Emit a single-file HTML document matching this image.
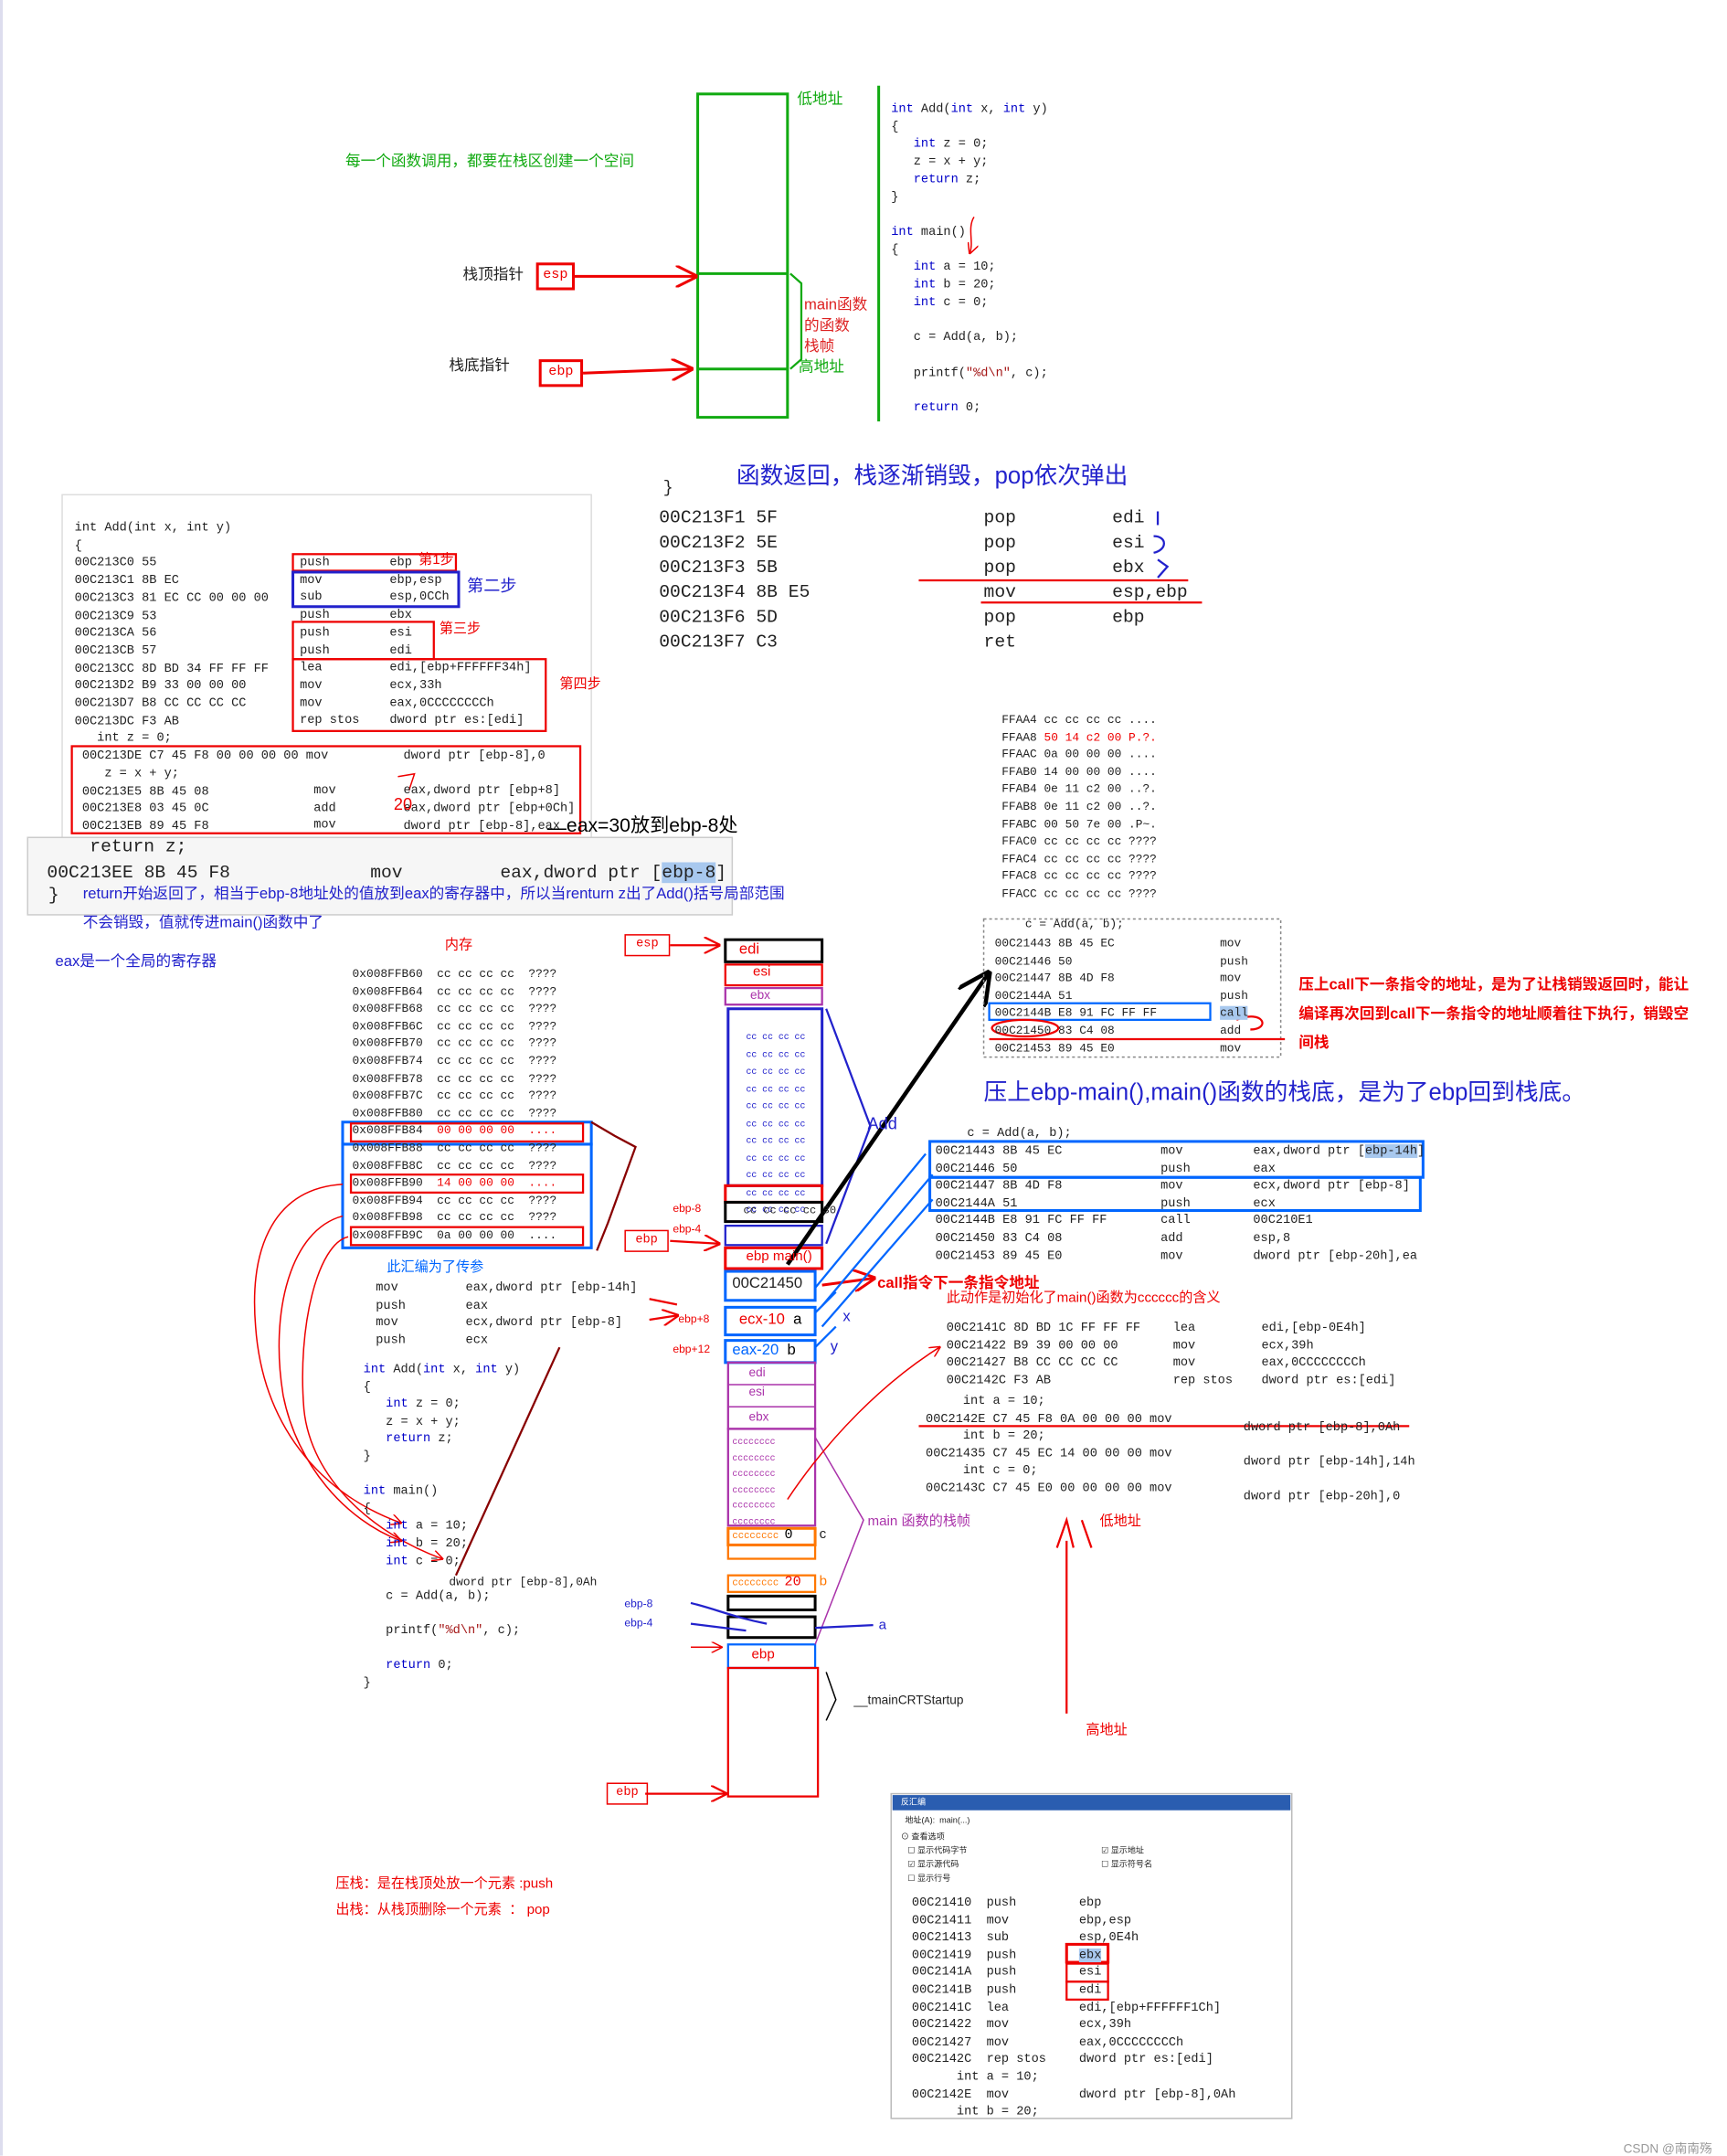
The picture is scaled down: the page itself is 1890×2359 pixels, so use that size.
<!DOCTYPE html>
<html><head><meta charset="utf-8"><style>
html,body{margin:0;padding:0;background:#fff;width:1890px;height:2359px;overflow:hidden}
#c{position:absolute;left:0;top:0;width:1250px;height:1560px;transform:scale(1.512);transform-origin:0 0;font-family:"Liberation Mono","Noto Sans CJK SC",monospace}
.t{position:absolute;white-space:pre;font-size:9px;line-height:10px;color:#222}
.cn{font-family:"Liberation Sans","Noto Sans CJK SC",sans-serif}
.b{position:absolute;box-sizing:border-box}
.kw{color:#0000c8}
</style></head><body><div id="c">
<svg width="1250" height="1560" style="position:absolute;left:0;top:0" fill="none">
<defs>
<marker id="ar" markerWidth="8" markerHeight="8" refX="7" refY="4" orient="auto"><path d="M0,0L8,4L0,8" stroke="#e00" fill="none"/></marker>
<marker id="ak" markerWidth="8" markerHeight="8" refX="7" refY="4" orient="auto"><path d="M0,0L8,4L0,8" stroke="#000" fill="none"/></marker>
<marker id="ab" markerWidth="8" markerHeight="8" refX="7" refY="4" orient="auto"><path d="M0,0L8,4L0,8" stroke="#06f" fill="none"/></marker>
</defs>
<line x1="0" y1="0" x2="0" y2="1560" stroke="#dde" stroke-width="4"/>
<!-- top section -->
<rect x="505" y="68" width="65" height="234" stroke="#1a1" stroke-width="2"/>
<line x1="505" y1="198" x2="570" y2="198" stroke="#1a1" stroke-width="2"/>
<line x1="505" y1="267" x2="570" y2="267" stroke="#1a1" stroke-width="2"/>
<path d="M572,198 L580,205 L580,260 L572,267" stroke="#1a1" stroke-width="1.5"/>
<line x1="636" y1="62" x2="636" y2="305" stroke="#1a1" stroke-width="2"/>
<line x1="416" y1="200" x2="503" y2="200" stroke="#e00" stroke-width="2" marker-end="url(#ar)"/>
<line x1="422" y1="270" x2="500" y2="267" stroke="#e00" stroke-width="2" marker-end="url(#ar)"/>
<path d="M705,157 C700,165 705,175 702,183" stroke="#e00" marker-end="url(#ar)"/>
<!-- section 2 -->
<rect x="45" y="358" width="383" height="302" stroke="#ddd"/>
<rect x="20" y="606" width="510" height="56" stroke="#ccc" fill="#f6f6f6"/>
<rect x="212" y="401" width="118" height="12" stroke="#e00" stroke-width="1.5"/>
<rect x="212" y="414" width="120" height="25" stroke="#22c" stroke-width="2"/>
<rect x="212" y="450" width="102" height="27" stroke="#e00" stroke-width="1.5"/>
<rect x="212" y="477" width="183" height="52" stroke="#e00" stroke-width="1.5"/>
<rect x="52" y="540" width="368" height="63" stroke="#e00" stroke-width="1.5"/>
<line x1="665" y1="420" x2="860" y2="420" stroke="#e00" stroke-width="1.5"/>
<line x1="710" y1="436" x2="870" y2="436" stroke="#e00" stroke-width="1.5"/>
<path d="M838,370 L838,380 M835,388 C845,388 845,398 835,400 M838,405 L845,410 L838,418" stroke="#22c" stroke-width="1.5"/>
<path d="M288,562 L300,560 L296,572" stroke="#e00"/>
<path d="M396,600 L410,600" stroke="#000"/>
<!-- memory left -->
<rect x="248" y="812" width="180" height="16" stroke="#06f" stroke-width="2"/>
<rect x="248" y="828" width="180" height="75" stroke="#06f" stroke-width="2"/>
<rect x="254" y="813" width="168" height="13" stroke="#e00" stroke-width="1.5"/>
<rect x="254" y="850" width="168" height="13" stroke="#e00" stroke-width="1.5"/>
<rect x="254" y="888" width="168" height="13" stroke="#e00" stroke-width="1.5"/>
<path d="M428,812 L445,822 L460,830 L440,885 L432,905" stroke="#800" stroke-width="1.5"/>
<path d="M248,857 C200,860 180,900 185,960 C190,1030 230,1080 290,1102" stroke="#e00" marker-end="url(#ar)"/>
<path d="M248,880 C210,890 195,950 205,1010 C215,1060 250,1100 290,1115" stroke="#e00" marker-end="url(#ar)"/>
<path d="M252,895 C230,900 215,960 220,1020 C225,1070 270,1110 320,1128" stroke="#e00" marker-end="url(#ar)"/>
<path d="M405,975 L330,1140" stroke="#800" stroke-width="1.5"/>
<path d="M470,940 L490,944 M470,955 L490,952" stroke="#e00" stroke-width="1.5" marker-end="url(#ar)"/>
<!-- center stack -->
<line x1="485" y1="684" x2="520" y2="684" stroke="#e00" stroke-width="1.5" marker-end="url(#ar)"/>
<line x1="485" y1="898" x2="520" y2="900" stroke="#e00" stroke-width="1.5" marker-end="url(#ar)"/>
<line x1="467" y1="1298" x2="525" y2="1298" stroke="#e00" stroke-width="1.5" marker-end="url(#ar)"/>
<rect x="525" y="680" width="70" height="16" stroke="#000" stroke-width="2"/>
<rect x="525" y="698" width="70" height="15" stroke="#e00" stroke-width="1.5"/>
<rect x="525" y="715" width="70" height="12" stroke="#a3a" stroke-width="1.5"/>
<rect x="527" y="730" width="68" height="128" stroke="#22c" stroke-width="2"/>
<rect x="525" y="858" width="70" height="12" stroke="#e00" stroke-width="2"/>
<rect x="525" y="870" width="70" height="14" stroke="#000" stroke-width="2"/>
<rect x="525" y="887" width="70" height="14" stroke="#22c" stroke-width="1.5"/>
<rect x="525" y="903" width="70" height="15" stroke="#e00" stroke-width="2"/>
<rect x="525" y="920" width="65" height="21" stroke="#06f" stroke-width="2"/>
<rect x="525" y="946" width="65" height="20" stroke="#06f" stroke-width="2"/>
<rect x="525" y="970" width="65" height="16" stroke="#06f" stroke-width="2"/>
<rect x="527" y="986" width="63" height="48" stroke="#a3a" stroke-width="1.5"/>
<line x1="527" y1="1002" x2="590" y2="1002" stroke="#a3a"/>
<line x1="527" y1="1018" x2="590" y2="1018" stroke="#a3a"/>
<rect x="527" y="1034" width="63" height="70" stroke="#a3a" stroke-width="1.5"/>
<rect x="527" y="1106" width="63" height="12" stroke="#f70" stroke-width="2"/>
<rect x="527" y="1118" width="63" height="10" stroke="#f70" stroke-width="1.5"/>
<rect x="527" y="1140" width="63" height="12" stroke="#f70" stroke-width="1.5"/>
<rect x="527" y="1155" width="63" height="10" stroke="#000" stroke-width="2"/>
<rect x="527" y="1170" width="63" height="15" stroke="#000" stroke-width="2"/>
<rect x="527" y="1190" width="63" height="17" stroke="#06f" stroke-width="1.5"/>
<rect x="527" y="1207" width="65" height="93" stroke="#e00" stroke-width="1.5"/>
<path d="M598,730 L630,815 L598,900" stroke="#22c" stroke-width="1.5"/>
<path d="M590,1040 L625,1100 L590,1190" stroke="#a3a" stroke-width="1"/>
<path d="M598,1210 L605,1230 L598,1245" stroke="#000"/>
<line x1="570" y1="915" x2="715" y2="705" stroke="#000" stroke-width="3" marker-end="url(#ak)"/>
<line x1="595" y1="930" x2="632" y2="925" stroke="#e00" stroke-width="2" marker-end="url(#ar)"/>
<path d="M590,932 L670,835 M595,945 L675,850 M595,960 L675,868" stroke="#06f" stroke-width="1.5"/>
<path d="M590,950 L605,935 M590,975 L605,960" stroke="#06f" stroke-width="1.5"/>
<path d="M570,1085 C600,1040 640,1000 680,975" stroke="#e00" marker-end="url(#ar)"/>
<path d="M500,1160 C520,1165 530,1170 555,1175 M500,1175 L540,1180 M590,1178 L632,1176" stroke="#22c" stroke-width="1.5"/>
<line x1="500" y1="1192" x2="522" y2="1192" stroke="#e00" marker-end="url(#ar)"/>
<!-- right side -->
<rect x="712" y="665" width="215" height="100" stroke="#888" stroke-dasharray="2,2"/>
<rect x="716" y="726" width="160" height="12" stroke="#06f" stroke-width="1.5"/>
<line x1="716" y1="752" x2="930" y2="752" stroke="#e00" stroke-width="1.5"/>
<ellipse cx="742" cy="744" rx="24" ry="6" stroke="#e00" stroke-width="1.5"/>
<path d="M895,738 C915,730 920,745 905,745" stroke="#e00" stroke-width="1.5"/>
<rect x="673" y="826" width="357" height="26" stroke="#06f" stroke-width="2"/>
<rect x="673" y="852" width="355" height="24" stroke="#06f" stroke-width="2"/>
<line x1="665" y1="1032" x2="1020" y2="1032" stroke="#e00" stroke-width="1.5"/>
<path d="M765,1120 L772,1100 L777,1120 M790,1120 L783,1100" stroke="#e00" stroke-width="1.5"/>
<line x1="772" y1="1115" x2="772" y2="1240" stroke="#e00" stroke-width="1.5"/>
<!-- dialog -->
<rect x="645" y="1298" width="290" height="235" stroke="#bbb" fill="#fff"/>
<rect x="646" y="1299" width="288" height="11" fill="#2a5db0"/>
<rect x="772" y="1407" width="30" height="13" stroke="#e00" stroke-width="2"/>
<rect x="772" y="1421" width="30" height="13" stroke="#e00" stroke-width="1.5"/>
<rect x="772" y="1434" width="30" height="13" stroke="#e00" stroke-width="1.5"/>
</svg>

<!-- top section text -->
<div class="t cn" style="left:250px;top:112px;font-size:11px;color:#1a1">每一个函数调用，都要在栈区创建一个空间</div>
<div class="t cn" style="left:577px;top:67px;font-size:11px;color:#1a1">低地址</div>
<div class="t cn" style="left:578px;top:261px;font-size:11px;color:#1a1">高地址</div>
<div class="t cn" style="left:582px;top:214px;font-size:11px;line-height:15px;color:#d22">main函数
的函数
栈帧</div>
<div class="t cn" style="left:335px;top:194px;font-size:11px">栈顶指针</div>
<div class="t cn" style="left:325px;top:260px;font-size:11px">栈底指针</div>
<div class="b" style="left:388px;top:190px;width:28px;height:20px;border:2px solid #e00;color:#e00;font-size:10px;text-align:center;line-height:16px">esp</div>
<div class="b" style="left:390px;top:260px;width:32px;height:20px;border:2px solid #e00;color:#e00;font-size:10px;text-align:center;line-height:16px">ebp</div>
<div class="t" style="left:645px;top:73px;line-height:12.7px"><span class="kw">int</span> Add(<span class="kw">int</span> x, <span class="kw">int</span> y)
{
   <span class="kw">int</span> z = 0;
   z = x + y;
   <span class="kw">return</span> z;
}

<span class="kw">int</span> main()
{
   <span class="kw">int</span> a = 10;
   <span class="kw">int</span> b = 20;
   <span class="kw">int</span> c = 0;

   c = Add(a, b);

   printf(<span style="color:#a31515">"%d\n"</span>, c);

   <span class="kw">return</span> 0;</div>

<!-- section 2 -->
<div class="t" style="left:54px;top:376px;line-height:12.7px">int Add(int x, int y)
{
00C213C0 55
00C213C1 8B EC
00C213C3 81 EC CC 00 00 00
00C213C9 53
00C213CA 56
00C213CB 57
00C213CC 8D BD 34 FF FF FF
00C213D2 B9 33 00 00 00
00C213D7 B8 CC CC CC CC
00C213DC F3 AB
   int z = 0;
 00C213DE C7 45 F8 00 00 00 00 mov
    z = x + y;
 00C213E5 8B 45 08
 00C213E8 03 45 0C
 00C213EB 89 45 F8</div>
<div class="t" style="left:217px;top:401px;line-height:12.7px">push
mov
sub
push
push
push
lea
mov
mov
rep stos</div>
<div class="t" style="left:282px;top:401px;line-height:12.7px">ebp
ebp,esp
esp,0CCh
ebx
esi
edi
edi,[ebp+FFFFFF34h]
ecx,33h
eax,0CCCCCCCCh
dword ptr es:[edi]</div>
<div class="t" style="left:227px;top:566px;line-height:12.7px">mov
add
mov</div>
<div class="t" style="left:292px;top:541px;line-height:12.7px">dword ptr [ebp-8],0

eax,dword ptr [ebp+8]
eax,dword ptr [ebp+0Ch]
dword ptr [ebp-8],eax</div>
<div class="t cn" style="left:303px;top:401px;color:#e00;font-size:10px">第1步</div>
<div class="t cn" style="left:338px;top:419px;color:#22c;font-size:12px">第二步</div>
<div class="t cn" style="left:318px;top:451px;color:#e00;font-size:10px">第三步</div>
<div class="t cn" style="left:405px;top:491px;color:#e00;font-size:10px">第四步</div>
<div class="t cn" style="left:285px;top:577px;color:#e00;font-size:12px">20</div>
<div class="t cn" style="left:410px;top:592px;font-size:14px;color:#000">eax=30放到ebp-8处</div>
<div class="t" style="left:65px;top:606px;font-size:13px;line-height:13px">return z;</div>
<div class="t" style="left:34px;top:625px;font-size:13px;line-height:14px">00C213EE 8B 45 F8</div>
<div class="t" style="left:268px;top:625px;font-size:13px;line-height:14px">mov</div>
<div class="t" style="left:362px;top:625px;font-size:13px;line-height:14px">eax,dword ptr [<span style="background:#a8c8ee">ebp-8</span>]</div>
<div class="t" style="left:35px;top:643px;font-size:13px">}</div>
<div class="t cn" style="left:60px;top:642px;color:#22c;font-size:11px">return开始返回了，相当于ebp-8地址处的值放到eax的寄存器中，所以当renturn z出了Add()括号局部范围</div>
<div class="t cn" style="left:60px;top:663px;color:#22c;font-size:11px">不会销毁，值就传进main()函数中了</div>
<div class="t cn" style="left:40px;top:691px;color:#22c;font-size:11px">eax是一个全局的寄存器</div>

<div class="t cn" style="left:533px;top:340px;color:#22c;font-size:17px">函数返回，栈逐渐销毁，pop依次弹出</div>
<div class="t" style="left:480px;top:348px;font-size:12px">}</div>
<div class="t" style="left:477px;top:366px;font-size:13px;line-height:18px">00C213F1 5F
00C213F2 5E
00C213F3 5B
00C213F4 8B E5
00C213F6 5D
00C213F7 C3</div>
<div class="t" style="left:712px;top:366px;font-size:13px;line-height:18px">pop
pop
pop
mov
pop
ret</div>
<div class="t" style="left:805px;top:366px;font-size:13px;line-height:18px">edi
esi
ebx
esp,ebp
ebp</div>

<!-- memory top right -->
<div class="t" style="left:725px;top:515px;line-height:12.6px;font-size:8.5px">FFAA4 cc cc cc cc ....
FFAA8 <span style="color:#e00">50 14 c2 00 P.?.</span>
FFAAC 0a 00 00 00 ....
FFAB0 14 00 00 00 ....
FFAB4 0e 11 c2 00 ..?.
FFAB8 0e 11 c2 00 ..?.
FFABC 00 50 7e 00 .P~.
FFAC0 cc cc cc cc ????
FFAC4 cc cc cc cc ????
FFAC8 cc cc cc cc ????
FFACC cc cc cc cc ????</div>

<!-- memory left -->
<div class="t cn" style="left:322px;top:680px;color:#e00;font-size:10px">内存</div>
<div class="t" style="left:255px;top:699px;line-height:12.6px;font-size:8.5px">0x008FFB60  cc cc cc cc  ????
0x008FFB64  cc cc cc cc  ????
0x008FFB68  cc cc cc cc  ????
0x008FFB6C  cc cc cc cc  ????
0x008FFB70  cc cc cc cc  ????
0x008FFB74  cc cc cc cc  ????
0x008FFB78  cc cc cc cc  ????
0x008FFB7C  cc cc cc cc  ????
0x008FFB80  cc cc cc cc  ????
0x008FFB84  <span style="color:#e00">00 00 00 00  ....</span>
0x008FFB88  cc cc cc cc  ????
0x008FFB8C  cc cc cc cc  ????
0x008FFB90  <span style="color:#e00">14 00 00 00  ....</span>
0x008FFB94  cc cc cc cc  ????
0x008FFB98  cc cc cc cc  ????
0x008FFB9C  0a 00 00 00  ....</div>
<div class="t cn" style="left:280px;top:913px;color:#06f;font-size:10px">此汇编为了传参</div>
<div class="t" style="left:272px;top:926px;line-height:12.6px">mov
push
mov
push</div>
<div class="t" style="left:337px;top:926px;line-height:12.6px">eax,dword ptr [ebp-14h]
eax
ecx,dword ptr [ebp-8]
ecx</div>

<!-- bottom left code -->
<div class="t" style="left:263px;top:985px;line-height:12.6px"><span class="kw">int</span> Add(<span class="kw">int</span> x, <span class="kw">int</span> y)
{
   <span class="kw">int</span> z = 0;
   z = x + y;
   <span class="kw">return</span> z;
}

<span class="kw">int</span> main()
{
   <span class="kw">int</span> a = 10;
   <span class="kw">int</span> b = 20;
   <span class="kw">int</span> c = 0;

   c = Add(a, b);

   printf(<span style="color:#a31515">"%d\n"</span>, c);

   <span class="kw">return</span> 0;
}</div>
<div class="t" style="left:325px;top:1140px;font-size:8.5px">dword ptr [ebp-8],0Ah</div>

<!-- center stack labels -->
<div class="b" style="left:452px;top:676px;width:33px;height:16px;border:1.5px solid #e00;color:#e00;font-size:9px;text-align:center;line-height:13px">esp</div>
<div class="t cn" style="left:535px;top:682px;color:#e00;font-size:11px">edi</div>
<div class="t cn" style="left:545px;top:699px;color:#e00;font-size:10px">esi</div>
<div class="t cn" style="left:543px;top:715px;color:#a3a;font-size:9px">ebx</div>
<div class="t" style="left:540px;top:745px;color:#22c;font-size:6.5px;line-height:12.5px">cc cc cc cc
cc cc cc cc
cc cc cc cc
cc cc cc cc
cc cc cc cc
cc cc cc cc
cc cc cc cc
cc cc cc cc
cc cc cc cc
cc cc cc cc
cc cc cc cc</div>
<div class="t" style="left:538px;top:872px;font-size:8px">cc cc cc cc 30</div>
<div class="t cn" style="left:540px;top:905px;color:#e00;font-size:10px">ebp main()</div>
<div class="t cn" style="left:530px;top:924px;font-size:11px">00C21450</div>
<div class="t cn" style="left:535px;top:950px;color:#e00;font-size:11px">ecx-10  <span style="color:#000">a</span></div>
<div class="t cn" style="left:530px;top:972px;color:#06f;font-size:11px">eax-20  <span style="color:#000">b</span></div>
<div class="t cn" style="left:542px;top:988px;color:#a3a;font-size:9px">edi</div>
<div class="t cn" style="left:542px;top:1002px;color:#a3a;font-size:9px">esi</div>
<div class="t cn" style="left:542px;top:1020px;color:#a3a;font-size:9px">ebx</div>
<div class="t" style="left:530px;top:1038px;color:#a3a;font-size:6.5px;line-height:11.5px">cccccccc
cccccccc
cccccccc
cccccccc
cccccccc
cccccccc</div>
<div class="t" style="left:530px;top:1107px;color:#f70;font-size:7px">cccccccc <span style="color:#000;font-size:10px">0</span></div>
<div class="t" style="left:530px;top:1141px;color:#f70;font-size:7px">cccccccc <span style="color:#e00;font-size:10px">20</span></div>
<div class="t cn" style="left:593px;top:1106px;font-size:10px">c</div>
<div class="t cn" style="left:593px;top:1140px;color:#f70;font-size:10px">b</div>
<div class="t cn" style="left:636px;top:1172px;color:#22c;font-size:10px">a</div>
<div class="t cn" style="left:610px;top:948px;color:#22c;font-size:11px">x</div>
<div class="t cn" style="left:601px;top:970px;color:#22c;font-size:11px">y</div>
<div class="t cn" style="left:544px;top:1193px;color:#e00;font-size:10px">ebp</div>
<div class="t cn" style="left:628px;top:808px;color:#22c;font-size:12px">Add</div>
<div class="t cn" style="left:628px;top:1097px;color:#a3a;font-size:10px">main 函数的栈帧</div>
<div class="t cn" style="left:618px;top:1225px;font-size:9px">__tmainCRTStartup</div>
<div class="t cn" style="left:487px;top:870px;color:#e00;font-size:8px">ebp-8</div>
<div class="t cn" style="left:487px;top:885px;color:#e00;font-size:8px">ebp-4</div>
<div class="t cn" style="left:491px;top:950px;color:#e00;font-size:8px">ebp+8</div>
<div class="t cn" style="left:487px;top:972px;color:#e00;font-size:8px">ebp+12</div>
<div class="t cn" style="left:452px;top:1156px;color:#22c;font-size:8px">ebp-8</div>
<div class="t cn" style="left:452px;top:1170px;color:#22c;font-size:8px">ebp-4</div>
<div class="b" style="left:452px;top:890px;width:32px;height:16px;border:1.5px solid #e00;color:#e00;font-size:9px;text-align:center;line-height:13px">ebp</div>
<div class="b" style="left:439px;top:1290px;width:30px;height:16px;border:1.5px solid #e00;color:#e00;font-size:9px;text-align:center;line-height:13px">ebp</div>
<div class="t cn" style="left:635px;top:924px;color:#e00;font-size:11px;font-weight:bold">call指令下一条指令地址</div>
<div class="t cn" style="left:685px;top:935px;color:#e00;font-size:10px">此动作是初始化了main()函数为cccccc的含义</div>

<!-- right code 1 -->
<div class="t" style="left:742px;top:664px;font-size:8.5px">c = Add(a, b);</div>
<div class="t" style="left:720px;top:677px;line-height:12.6px;font-size:8.5px">00C21443 8B 45 EC
00C21446 50
00C21447 8B 4D F8
00C2144A 51
00C2144B E8 91 FC FF FF
00C21450 83 C4 08
00C21453 89 45 E0</div>
<div class="t" style="left:883px;top:677px;line-height:12.6px;font-size:8.5px">mov
push
mov
push
<span style="background:#a8c8ee">call</span>
add
mov</div>
<div class="t cn" style="left:940px;top:703px;color:#e00;font-size:11px;line-height:21px;font-weight:bold">压上call下一条指令的地址，是为了让栈销毁返回时，能让
编译再次回到call下一条指令的地址顺着往下执行，销毁空
间栈</div>
<div class="t cn" style="left:712px;top:786px;color:#22c;font-size:17px">压上ebp-main(),main()函数的栈底，是为了ebp回到栈底。</div>

<!-- right code 2 -->
<div class="t" style="left:700px;top:815px">c = Add(a, b);</div>
<div class="t" style="left:677px;top:827px;line-height:12.6px">00C21443 8B 45 EC
00C21446 50
00C21447 8B 4D F8
00C2144A 51
00C2144B E8 91 FC FF FF
00C21450 83 C4 08
00C21453 89 45 E0</div>
<div class="t" style="left:840px;top:827px;line-height:12.6px">mov
push
mov
push
call
add
mov</div>
<div class="t" style="left:907px;top:827px;line-height:12.6px">eax,dword ptr [<span style="background:#a8c8ee">ebp-14h</span>]
eax
ecx,dword ptr [ebp-8]
ecx
00C210E1
esp,8
dword ptr [ebp-20h],ea</div>

<!-- right code 3 -->
<div class="t" style="left:685px;top:955px;line-height:12.6px">00C2141C 8D BD 1C FF FF FF
00C21422 B9 39 00 00 00
00C21427 B8 CC CC CC CC
00C2142C F3 AB</div>
<div class="t" style="left:849px;top:955px;line-height:12.6px">lea
mov
mov
rep stos</div>
<div class="t" style="left:913px;top:955px;line-height:12.6px">edi,[ebp-0E4h]
ecx,39h
eax,0CCCCCCCCh
dword ptr es:[edi]</div>
<div class="t" style="left:670px;top:1008px;line-height:12.6px">     int a = 10;
00C2142E C7 45 F8 0A 00 00 00 mov
     int b = 20;
00C21435 C7 45 EC 14 00 00 00 mov
     int c = 0;
00C2143C C7 45 E0 00 00 00 00 mov</div>
<div class="t" style="left:900px;top:1021px;line-height:25.2px">dword ptr [ebp-8],0Ah
dword ptr [ebp-14h],14h
dword ptr [ebp-20h],0</div>
<div class="t cn" style="left:796px;top:1097px;color:#e00;font-size:10px">低地址</div>
<div class="t cn" style="left:786px;top:1248px;color:#e00;font-size:10px">高地址</div>

<!-- bottom text -->
<div class="t cn" style="left:243px;top:1359px;color:#e00;font-size:10px">压栈：是在栈顶处放一个元素 :push</div>
<div class="t cn" style="left:243px;top:1378px;color:#e00;font-size:10px">出栈：从栈顶删除一个元素  ： pop</div>

<!-- dialog -->
<div class="t cn" style="left:652px;top:1300px;color:#fff;font-size:6px">反汇编</div>
<div class="t cn" style="left:655px;top:1313px;font-size:6px">地址(A):  main(...)</div>
<div class="t cn" style="left:652px;top:1325px;font-size:6px;line-height:10px">⊙ 查看选项
   ☐ 显示代码字节
   ☑ 显示源代码
   ☐ 显示行号</div>
<div class="t cn" style="left:797px;top:1335px;font-size:6px;line-height:10px">☑ 显示地址
☐ 显示符号名</div>
<div class="t" style="left:660px;top:1371px;line-height:12.6px">00C21410  push
00C21411  mov
00C21413  sub
00C21419  push
00C2141A  push
00C2141B  push
00C2141C  lea
00C21422  mov
00C21427  mov
00C2142C  rep stos
      int a = 10;
00C2142E  mov
      int b = 20;</div>
<div class="t" style="left:781px;top:1371px;line-height:12.6px">ebp
ebp,esp
esp,0E4h
<span style="background:#a8c8ee">ebx</span>
esi
edi
edi,[ebp+FFFFFF1Ch]
ecx,39h
eax,0CCCCCCCCh
dword ptr es:[edi]

dword ptr [ebp-8],0Ah</div>
<div class="t cn" style="left:1175px;top:1550px;color:#999;font-size:9px">CSDN @南南殇</div>
</div></body></html>
